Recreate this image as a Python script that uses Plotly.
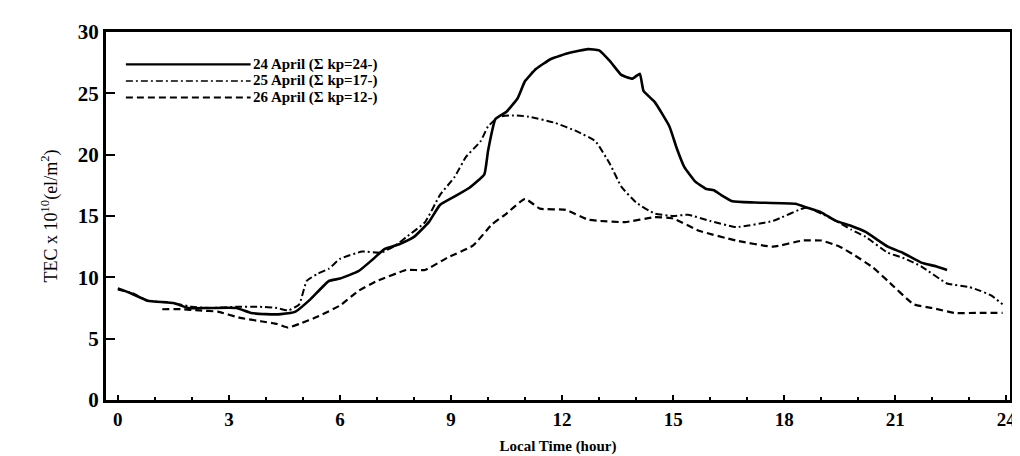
import plotly.graph_objects as go

# 24 April (solid)
x24 = [0, 0.35, 0.8, 1.5, 1.9, 2.5, 3.2, 3.6, 4.0, 4.4, 4.8, 5.2, 5.7, 6.0, 6.5, 6.9, 7.2, 7.6, 8.0, 8.4, 8.7,
       9.1, 9.5, 9.9, 10.0, 10.2, 10.5, 10.8, 11.0, 11.3, 11.7, 12.2, 12.7, 13.0, 13.3, 13.6, 13.9, 14.1, 14.2, 14.5,
       14.9, 15.1, 15.3, 15.6, 15.9, 16.1, 16.3, 16.6, 17.2, 18.3, 18.6, 19.0, 19.4, 19.8, 20.2, 20.8, 21.2,
       21.7, 22.1, 22.4]
y24 = [9.1, 8.7, 8.1, 7.9, 7.5, 7.5, 7.5, 7.1, 7.0, 7.0, 7.2, 8.2, 9.7, 9.9, 10.5, 11.5, 12.3, 12.7, 13.3, 14.5, 15.9,
       16.6, 17.3, 18.4, 20.3, 22.9, 23.5, 24.6, 26.0, 27.0, 27.8, 28.3, 28.6, 28.5, 27.6, 26.5, 26.2, 26.6, 25.2, 24.3,
       22.3, 20.5, 19.0, 17.8, 17.2, 17.1, 16.7, 16.2, 16.1, 16.0, 15.7, 15.3, 14.6, 14.2, 13.7, 12.5, 12.0,
       11.2, 10.9, 10.6]

# 25 April (dash-dot)
x25 = [0, 0.4, 0.8, 1.5, 2.0, 2.5, 3.2, 3.8, 4.3, 4.6, 4.9, 5.1, 5.4, 5.7, 6.0, 6.6, 7.1, 7.5, 7.8, 8.3, 8.7,
       9.1, 9.4, 9.8, 10.0, 10.3, 10.7, 11.1, 11.8, 12.4, 12.9, 13.3, 13.6, 14.0, 14.5, 15.0, 15.4, 16.0, 16.7,
       17.7, 18.6, 19.0, 19.4, 19.8, 20.2, 20.8, 21.2, 21.7, 22.4, 23.0, 23.3, 23.6, 23.9]
y25 = [9.0, 8.7, 8.1, 7.9, 7.6, 7.5, 7.6, 7.6, 7.5, 7.3, 7.8, 9.7, 10.3, 10.7, 11.5, 12.1, 12.0, 12.6, 13.3, 14.5, 16.7,
       18.2, 19.8, 21.1, 22.3, 23.1, 23.2, 23.1, 22.6, 21.9, 21.1, 19.2, 17.4, 16.1, 15.2, 15.0, 15.1, 14.6, 14.1,
       14.6, 15.7, 15.2, 14.6, 13.9, 13.3, 12.0, 11.6, 10.9, 9.5, 9.2, 8.9, 8.5, 7.8]

# 26 April (dashed)
x26 = [1.2, 1.7, 2.2, 2.7, 3.3, 3.9, 4.3, 4.6, 4.9, 5.4, 6.0, 6.5, 7.0, 7.8, 8.3, 8.9, 9.6, 10.1, 10.5, 11.0,
       11.4, 12.1, 12.7, 13.0, 13.7, 14.5, 15.0, 15.7, 16.7, 17.7, 18.5, 19.0, 19.5, 19.9, 20.4, 20.8, 21.5,
       22.0, 22.6, 23.2, 23.9]
y26 = [7.4, 7.4, 7.3, 7.2, 6.7, 6.4, 6.2, 5.9, 6.2, 6.8, 7.7, 8.9, 9.7, 10.6, 10.6, 11.6, 12.6, 14.3, 15.2, 16.4,
       15.6, 15.5, 14.7, 14.6, 14.5, 14.9, 14.8, 13.8, 13.0, 12.5, 13.0, 13.0, 12.5, 11.8, 10.8, 9.7, 7.8,
       7.5, 7.1, 7.1, 7.1]

labels = ["24 April (\u03a3 kp=24-)", "25 April (\u03a3 kp=17-)", "26 April (\u03a3 kp=12-)"]
dashes = ["solid", "7px,3px,2px,3px", "7px,4px"]
widths = [2.6, 2.0, 2.2]
x_ticks = list(range(0, 25, 3))
y_ticks = list(range(0, 31, 5))

FONT = "Liberation Serif"
fig = go.Figure()
for xs, ys, lab, d, w in zip([x24, x25, x26], [y24, y25, y26], labels, dashes, widths):
    fig.add_trace(go.Scatter(x=xs, y=ys, mode="lines", name=lab,
                             line=dict(color="black", width=w, dash=d, shape="spline", smoothing=0.4),
                             showlegend=False))

# manual legend (long line samples as in the original)
leg_y = [0.912, 0.867, 0.822]
for lab, d, w, ly in zip(labels, dashes, widths, leg_y):
    fig.add_shape(type="line", xref="paper", yref="paper", x0=0.022, x1=0.16, y0=ly, y1=ly,
                  line=dict(color="black", width=max(w - 0.4, 1.6), dash=d))
    fig.add_annotation(xref="paper", yref="paper", x=0.16, y=ly, text=lab, showarrow=False,
                       xanchor="left", yanchor="middle", xshift=0,
                       font=dict(family=FONT, size=15, color="black", weight="bold"))

fig.update_layout(
    width=1020, height=456,
    margin=dict(l=98, r=14, t=18, b=51),
    paper_bgcolor="white", plot_bgcolor="white",
    font=dict(family=FONT, color="black"),
)
fig.update_xaxes(range=[-0.32, 24.1], tickvals=x_ticks, ticks="inside", ticklen=5, tickwidth=2,
                 tickcolor="black", showline=True, linecolor="black", linewidth=3, mirror=True,
                 showgrid=False, zeroline=False,
                 minor=dict(dtick=1, ticks="inside", ticklen=3, tickwidth=1.5, tickcolor="black"),
                 tickfont=dict(family=FONT, size=19, color="black", weight="bold"),
                 title=dict(text="Local Time (hour)", standoff=12,
                            font=dict(family=FONT, size=15, color="black", weight="bold")))
fig.update_yaxes(range=[0, 30], tickvals=y_ticks, ticks="inside", ticklen=9, tickwidth=1.5,
                 tickcolor="black", showline=True, linecolor="black", linewidth=3, mirror=True,
                 showgrid=False, zeroline=False,
                 tickfont=dict(family=FONT, size=21, color="black", weight="bold"),
                 title=dict(text="TEC x 10<sup>10</sup>(el/m<sup>2</sup>)", standoff=16,
                            font=dict(family=FONT, size=18, color="#000000")))

fig.write_html("out.html")
